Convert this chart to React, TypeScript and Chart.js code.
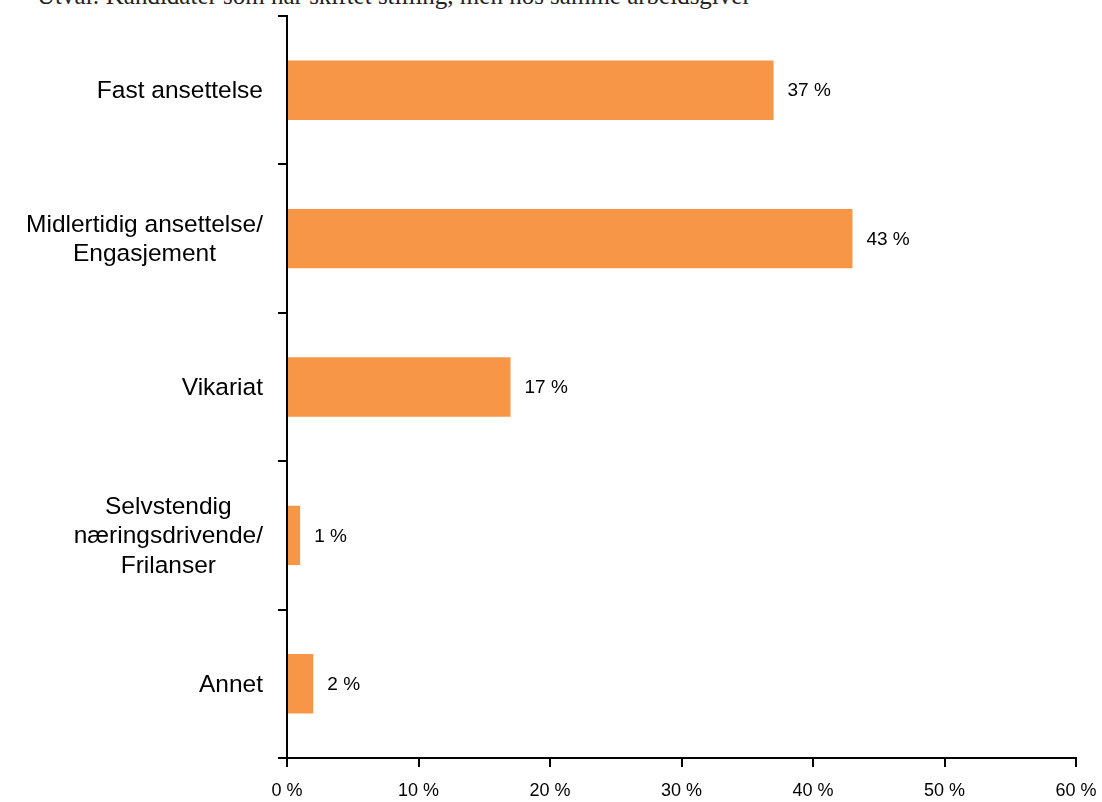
import React, { useEffect, useRef } from "react";
import { Chart, registerables } from "chart.js";

Chart.register(...registerables);

const categories: string[][] = [
  ["Fast ansettelse"],
  ["Midlertidig ansettelse/", "Engasjement"],
  ["Vikariat"],
  ["Selvstendig", "næringsdrivende/", "Frilanser"],
  ["Annet"],
];
const values: number[] = [37, 43, 17, 1, 2];
const xTicks: number[] = [0, 10, 20, 30, 40, 50, 60];
const subtitle = "Utval: Kandidater som har skiftet stilling, men hos samme arbeidsgiver";

const FONT = "'Liberation Sans', Arial, sans-serif";
const BAR_COLOR = "#F79646";

const labelPlugin = {
  id: "customLabels",
  afterDraw(chart: any) {
    const ctx = chart.ctx;
    const yScale = chart.scales.y;
    const meta = chart.getDatasetMeta(0);
    ctx.save();
    ctx.font = `24.5px ${FONT}`;
    ctx.fillStyle = "#000";
    ctx.textBaseline = "middle";
    ctx.textAlign = "center";
    const lineH = 29.5;
    categories.forEach((lines, i) => {
      const y = yScale.getPixelForValue(i);
      const w = Math.max(...lines.map((l) => ctx.measureText(l).width));
      const right = yScale.right - 24;
      const cx = right - w / 2;
      const startY = y - ((lines.length - 1) * lineH) / 2;
      lines.forEach((l, j) => ctx.fillText(l, cx, startY + j * lineH + 1));
    });
    ctx.font = `19px ${FONT}`;
    ctx.textAlign = "left";
    meta.data.forEach((bar: any, i: number) => {
      ctx.fillText(`${values[i]} %`, bar.x + 14, bar.y + 1);
    });
    ctx.restore();
  },
};

export default function App() {
  const ref = useRef<HTMLCanvasElement | null>(null);
  useEffect(() => {
    if (!ref.current) return;
    const chart = new Chart(ref.current, {
      type: "bar",
      data: {
        labels: categories.map((c) => c.join(" ")),
        datasets: [
          {
            data: values,
            backgroundColor: BAR_COLOR,
            borderWidth: 0,
            categoryPercentage: 0.8,
            barPercentage: 0.5,
          },
        ],
      },
      options: {
        indexAxis: "y",
        animation: false,
        responsive: false,
        layout: { padding: { left: 0, right: 26, top: 16, bottom: 0 } },
        plugins: {
          legend: { display: false },
          tooltip: { enabled: false },
          title: { display: false },
        },
        scales: {
          x: {
            type: "linear",
            min: 0,
            max: 60,
            afterBuildTicks: (scale: any) => {
              scale.ticks = xTicks.map((v) => ({ value: v }));
            },
            afterFit: (scale: any) => {
              scale.height = 44;
              scale.paddingLeft = 0;
              scale.paddingRight = 0;
            },
            ticks: {
              callback: (v: any) => `${v} %`,
              color: "#000",
              font: { family: FONT, size: 18 },
              padding: 13,
              maxRotation: 0,
            },
            grid: {
              drawOnChartArea: false,
              drawTicks: true,
              tickLength: 9,
              color: "#000",
              lineWidth: 2,
            },
            border: { display: true, color: "#000", width: 2 },
          },
          y: {
            type: "category",
            offset: true,
            afterFit: (scale: any) => {
              scale.width = 287;
              scale.paddingTop = 0;
              scale.paddingBottom = 0;
            },
            ticks: { display: false },
            grid: {
              offset: true,
              drawOnChartArea: false,
              drawTicks: true,
              tickLength: 9,
              color: "#000",
              lineWidth: 2,
            },
            border: { display: true, color: "#000", width: 2 },
          },
        },
      },
      plugins: [labelPlugin],
    });
    return () => chart.destroy();
  }, []);

  return (
    <div style={{ position: "fixed", left: 0, top: 0, width: 1102, height: 802, background: "#fff", overflow: "hidden" }}>
      <div
        style={{
          position: "absolute",
          left: 37,
          top: -17.5,
          fontFamily: "'Liberation Serif', 'Times New Roman', serif",
          fontSize: 25,
          lineHeight: "25px",
          color: "#222",
          whiteSpace: "nowrap",
        }}
      >
        {subtitle}
      </div>
      <canvas ref={ref} width={1102} height={802} style={{ position: "absolute", left: 0, top: 0 }} />
    </div>
  );
}
